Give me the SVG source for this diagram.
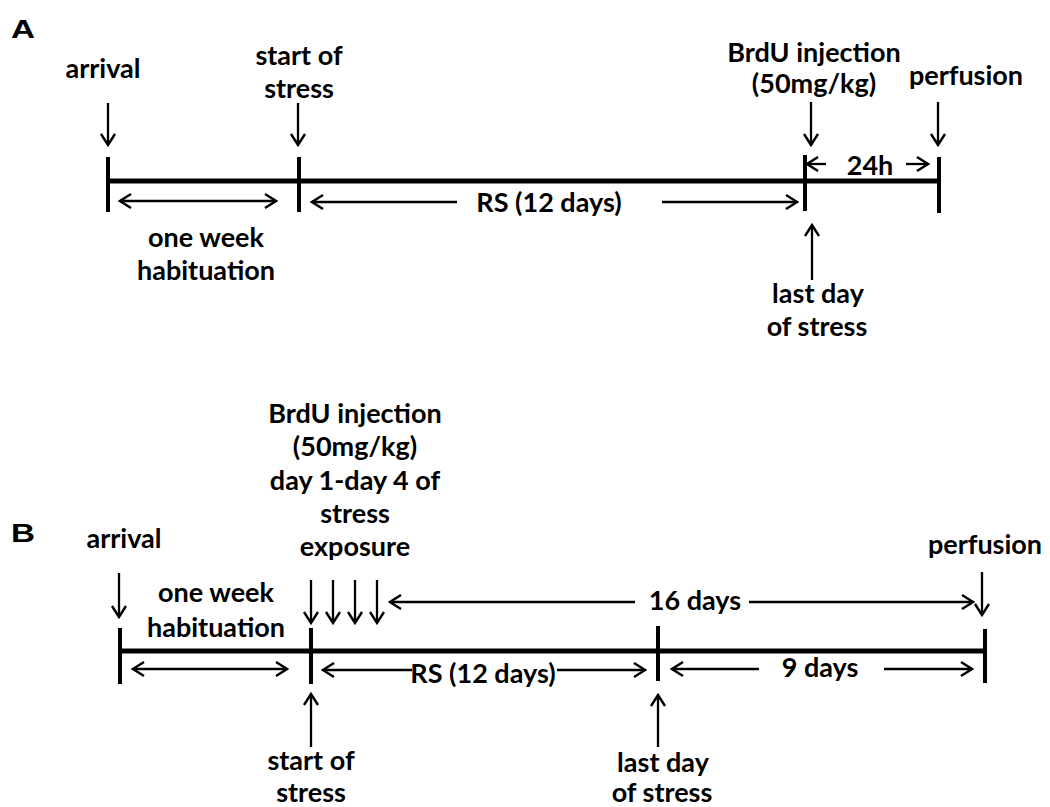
<svg xmlns="http://www.w3.org/2000/svg" width="1050" height="807" viewBox="0 0 1050 807">
<style>
  .t { font-family: Lato, "Open Sans", "Liberation Sans", sans-serif; font-weight: bold; font-size: 27px; fill: #000; text-anchor: middle; }
  .lbl { font-family: "Liberation Sans", Arial, sans-serif; font-weight: bold; font-size: 26px; fill: #000; }
  .axis { stroke: #000; stroke-width: 5; fill: none; }
  .tick { stroke: #000; stroke-width: 4; fill: none; }
  .arr { stroke: #000; stroke-width: 2.3; fill: none; }
  .a1 { marker-end: url(#head); }
  .a2 { marker-start: url(#head); marker-end: url(#head); }
  .a0 { marker-start: url(#head); }
</style>
<defs>
  <marker id="head" viewBox="-15 -9 17 18" refX="0" refY="0" markerWidth="17" markerHeight="18" markerUnits="userSpaceOnUse" orient="auto-start-reverse">
    <path d="M-11,-7 L0,0 L-11,7" fill="none" stroke="#000" stroke-width="2.4" stroke-linejoin="miter"/>
  </marker>
</defs>
<rect width="1050" height="807" fill="#fff"/>

<g id="panelA">
  <text class="lbl" x="11" y="38" textLength="24" lengthAdjust="spacingAndGlyphs">A</text>
  <g id="A-timeline">
    <line class="axis" x1="108" y1="181" x2="939" y2="181"/>
    <line class="tick" x1="108" y1="157" x2="108" y2="212"/>
    <line class="tick" x1="299" y1="157" x2="299" y2="212"/>
    <line class="tick" x1="805" y1="155" x2="805" y2="211"/>
    <line class="tick" x1="939" y1="157" x2="939" y2="213"/>
  </g>
  <g id="A-arrival"><text class="t" x="103" y="78">arrival</text></g>
  <g id="A-start"><text class="t" x="299" y="65">start of</text><text class="t" x="299" y="98">stress</text></g>
  <g id="A-brdu"><text class="t" x="814" y="62">BrdU injection</text><text class="t" x="814" y="93">(50mg/kg)</text></g>
  <g id="A-perfusion"><text class="t" x="966" y="85">perfusion</text></g>
  <g id="A-habituation"><text class="t" x="206" y="247">one week</text><text class="t" x="206" y="280">habituation</text></g>
  <g id="A-rs"><text class="t" x="549" y="212">RS (12 days)</text></g>
  <g id="A-24h"><text class="t" x="870" y="175">24h</text></g>
  <g id="A-last"><text class="t" x="818" y="303">last day</text><text class="t" x="817" y="336">of stress</text></g>
  <g id="A-connectors">
    <line class="arr a1" x1="108" y1="103" x2="108" y2="145"/>
    <line class="arr a1" x1="298" y1="103" x2="298" y2="145"/>
    <line class="arr a1" x1="811" y1="102" x2="811" y2="145"/>
    <line class="arr a1" x1="938" y1="102" x2="938" y2="145"/>
    <line class="arr a1" x1="812" y1="280" x2="812" y2="225"/>
    <line class="arr a2" x1="120" y1="201" x2="276" y2="201"/>
    <line class="arr a0" x1="312" y1="202" x2="457" y2="202"/>
    <line class="arr a1" x1="662" y1="202" x2="797" y2="202"/>
    <line class="arr a0" x1="807" y1="164" x2="826" y2="164"/>
    <line class="arr a1" x1="906" y1="164" x2="928" y2="164"/>
  </g>
</g>

<g id="panelB">
  <text class="lbl" x="11" y="542" textLength="24" lengthAdjust="spacingAndGlyphs">B</text>
  <g id="B-timeline">
    <line class="axis" x1="120" y1="651" x2="985" y2="651"/>
    <line class="tick" x1="120" y1="628" x2="120" y2="684"/>
    <line class="tick" x1="311" y1="628" x2="311" y2="684"/>
    <line class="tick" x1="658" y1="626" x2="658" y2="681"/>
    <line class="tick" x1="985" y1="629" x2="985" y2="683"/>
  </g>
  <g id="B-arrival"><text class="t" x="124" y="548">arrival</text></g>
  <g id="B-brdu">
    <text class="t" x="355" y="423">BrdU injection</text>
    <text class="t" x="355" y="456">(50mg/kg)</text>
    <text class="t" x="355" y="490">day 1-day 4 of</text>
    <text class="t" x="355" y="523">stress</text>
    <text class="t" x="355" y="556">exposure</text>
  </g>
  <g id="B-perfusion"><text class="t" x="985" y="554">perfusion</text></g>
  <g id="B-habituation"><text class="t" x="216" y="602">one week</text><text class="t" x="216" y="637">habituation</text></g>
  <g id="B-16days"><text class="t" x="695" y="610">16 days</text></g>
  <g id="B-rs"><text class="t" x="483" y="683">RS (12 days)</text></g>
  <g id="B-9days"><text class="t" x="820" y="677">9 days</text></g>
  <g id="B-start"><text class="t" x="311" y="770">start of</text><text class="t" x="311" y="802">stress</text></g>
  <g id="B-last"><text class="t" x="663" y="772">last day</text><text class="t" x="662" y="802">of stress</text></g>
  <g id="B-connectors">
    <line class="arr a1" x1="119" y1="573" x2="119" y2="617"/>
    <line class="arr a1" x1="311" y1="580" x2="311" y2="623"/>
    <line class="arr a1" x1="333" y1="580" x2="333" y2="623"/>
    <line class="arr a1" x1="355" y1="580" x2="355" y2="623"/>
    <line class="arr a1" x1="377" y1="580" x2="377" y2="623"/>
    <line class="arr a1" x1="982" y1="572" x2="982" y2="615"/>
    <line class="arr a0" x1="390" y1="602" x2="635" y2="602"/>
    <line class="arr a1" x1="749" y1="602" x2="973" y2="602"/>
    <line class="arr a2" x1="133" y1="669" x2="287" y2="669"/>
    <line class="arr a0" x1="323" y1="670" x2="412" y2="670"/>
    <line class="arr a1" x1="557" y1="670" x2="645" y2="670"/>
    <line class="arr a0" x1="672" y1="669" x2="759" y2="669"/>
    <line class="arr a1" x1="884" y1="669" x2="972" y2="669"/>
    <line class="arr a1" x1="311" y1="747" x2="311" y2="694"/>
    <line class="arr a1" x1="658" y1="747" x2="658" y2="695"/>
  </g>
</g>
</svg>
